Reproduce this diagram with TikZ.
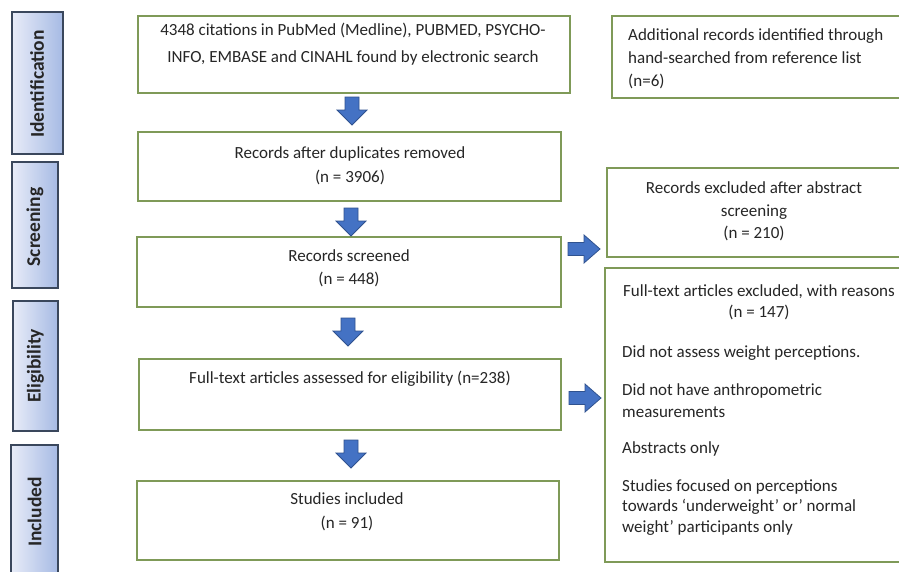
\documentclass[tikz,border=0pt]{standalone}
\usepackage{fontspec}
\setmainfont{Carlito}
\begin{document}
\begin{tikzpicture}[x=1pt,y=-1pt,
  box/.style={draw=boxgreen, line width=1.4pt, fill=white, inner sep=0pt},
  side/.style={draw=sideborder, line width=1.3pt, left color=sidelight, right color=sidedark, inner sep=0pt},
  sidetext/.style={rotate=90, font=\fontsize{19.5}{21}\selectfont\bfseries, text=black!85},
  txt/.style={font=\fontsize{17}{23.5}\selectfont, align=center, inner sep=0pt, text=black!85},
  ltxt/.style={font=\fontsize{17}{22}\selectfont, align=left, inner sep=0pt, anchor=west, text=black!85},
  arrowsty/.style={draw=arrowborder, fill=arrowblue, line width=0.8pt, line join=miter},
  darr/.pic={\draw[arrowsty] (-7,0) -- (7,0) -- (7,13) -- (15,13) -- (0,28) -- (-15,13) -- (-7,13) -- cycle;},
  rarr/.pic={\draw[arrowsty] (0,-6.5) -- (16,-6.5) -- (16,-14) -- (32,0) -- (16,14) -- (16,6.5) -- (0,6.5) -- cycle;}
]
\definecolor{boxgreen}{HTML}{7F9A58}
\definecolor{sideborder}{HTML}{3A475C}
\definecolor{sidelight}{HTML}{E8ECF8}
\definecolor{sidedark}{HTML}{A6BAE4}
\definecolor{arrowblue}{HTML}{4472C4}
\definecolor{arrowborder}{HTML}{2F528F}
\useasboundingbox (0,0) rectangle (899,571);
\fill[white] (0,0) rectangle (899,571);

% side labels
\draw[side] (12,12) rectangle (63,154);
\node[sidetext] (sid) at (37,84) {Identification};
\draw[side] (12,162) rectangle (58,288);
\node[sidetext] (sscr) at (35,227) {Screening};
\draw[side] (13,301) rectangle (58,431);
\node[sidetext] (selig) at (35.5,366) {Eligibility};
\draw[side] (11,445) rectangle (58,580);
\node[sidetext] (sinc) at (34.5,512) {Included};

% main boxes
\draw[box] (138,16) rectangle (570,93);
\node[txt] (t1) at (353,44) {4348 citations in PubMed (Medline), PUBMED, PSYCHO-\\[3.5pt]INFO, EMBASE and CINAHL found by electronic search};

\draw[box] (138,132) rectangle (561,201);
\node[txt] (t2) at (350,166) {Records after duplicates removed\\[1pt](n = 3906)};

\draw[box] (137,237) rectangle (561,307);
\node[txt] (t3) at (349,268.5) {Records screened\\(n = 448)};

\draw[box] (139,359) rectangle (561,430);
\node[txt] (t4) at (350,379) {Full-text articles assessed for eligibility (n=238)};

\draw[box] (137,481) rectangle (559,560);
\node[txt] (t5) at (347,512) {Studies included\\(n = 91)};

% right boxes
\draw[box] (612,16) rectangle (910,98);
\node[ltxt, anchor=north west, font=\fontsize{17}{23}\selectfont] (t6) at (628,28) {Additional records identified through\\hand-searched from reference list\\(n=6)};

\draw[box] (607,168) rectangle (910,257);
\node[txt, font=\fontsize{17}{22.5}\selectfont] (t7) at (754,211.5) {Records excluded after abstract\\screening\\(n = 210)};

\draw[box] (605,268) rectangle (910,562);
\node[txt, font=\fontsize{17}{21.5}\selectfont] (t8) at (759,302.5) {Full-text articles excluded, with reasons\\(n = 147)};
\node[ltxt] (t9) at (622,353) {Did not assess weight perceptions.};
\node[ltxt, font=\fontsize{17}{22}\selectfont] (t10) at (622,401) {Did not have anthropometric\\measurements};
\node[ltxt] (t11) at (622,448.5) {Abstracts only};
\node[ltxt, font=\fontsize{17}{20.5}\selectfont] (t12) at (622,507.5) {Studies focused on perceptions\\towards `underweight' or' normal\\weight' participants only};

% arrows
\pic at (352,97) {darr};
\pic at (351,208) {darr};
\pic at (348,318) {darr};
\pic at (351,440) {darr};
\pic at (568,249) {rarr};
\pic at (569,398) {rarr};
\end{tikzpicture}
\end{document}
